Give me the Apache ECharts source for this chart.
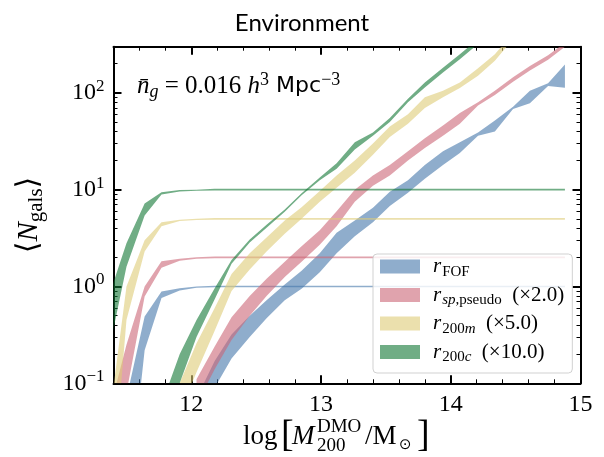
<!DOCTYPE html>
<html><head><meta charset="utf-8">
<script src="https://cdn.jsdelivr.net/npm/echarts@6/dist/echarts.min.js"></script>
<style>html,body{margin:0;padding:0;background:#fff}#c{width:604px;height:457px}</style>
</head><body><div id="c"></div>
<script>
// ---- data ----
const massBins = [11.365, 11.50, 11.64, 11.77, 11.91, 12.04, 12.18, 12.31, 12.45, 12.58, 12.72, 12.85, 12.99, 13.12, 13.26, 13.40, 13.53, 13.67, 13.80, 13.94, 14.07, 14.21, 14.34, 14.48, 14.61, 14.75, 14.88];

const blueCenLo = [0.001, 0.004, 0.22, 0.76, 0.91, 0.97, 0.98, 0.98, 0.98, 0.98, 0.98, 0.98, 0.98, 0.98, 0.98, 0.98, 0.98, 0.98, 0.98, 0.98, 0.98, 0.98, 0.98, 0.98, 0.98, 0.98, 0.98];
const blueCenHi = [0.01, 0.07, 0.49, 0.89, 0.96, 1.0, 1.02, 1.02, 1.02, 1.02, 1.02, 1.02, 1.02, 1.02, 1.02, 1.02, 1.02, 1.02, 1.02, 1.02, 1.02, 1.02, 1.02, 1.02, 1.02, 1.02, 1.02];
const blueSatLo = [null, null, null, null, null, 0.035, 0.09, 0.18, 0.3, 0.47, 0.72, 0.95, 1.4, 2.2, 3.3, 4.6, 6.8, 9.3, 13, 18, 24, 36, 40, 68, 78, 118, 113];
const blueSatHi = [null, null, null, null, null, 0.07, 0.17, 0.32, 0.5, 0.72, 1.05, 1.45, 2.2, 3.6, 4.8, 6.5, 9.5, 12.5, 18, 25, 31, 39, 52, 72, 105, 126, 196];

const pinkCenLo = [0.01, 0.08, 0.79, 1.56, 1.85, 1.93, 1.96, 1.96, 1.96, 1.96, 1.96, 1.96, 1.96, 1.96, 1.96, 1.96, 1.96, 1.96, 1.96, 1.96, 1.96, 1.96, 1.96, 1.96, 1.96, 1.96, 1.96];
const pinkCenHi = [0.05, 0.25, 1.0, 1.82, 1.94, 2.0, 2.04, 2.04, 2.04, 2.04, 2.04, 2.04, 2.04, 2.04, 2.04, 2.04, 2.04, 2.04, 2.04, 2.04, 2.04, 2.04, 2.04, 2.04, 2.04, 2.04, 2.04];
const pinkSatLo = [null, null, null, null, null, 0.06, 0.14, 0.28, 0.5, 0.8, 1.25, 1.8, 2.7, 4.2, 7.5, 11, 14, 20, 27, 36, 48, 74, 95, 130, 170, 220, 300];
const pinkSatHi = [null, null, null, null, null, 0.11, 0.24, 0.48, 0.8, 1.2, 1.8, 2.6, 3.8, 6.0, 10, 14, 18, 25, 34, 46, 62, 80, 105, 145, 190, 245, 330];

const yellowCenLo = [0.003, 0.45, 2.3, 4.2, 4.75, 4.85, 4.9, 4.9, 4.9, 4.9, 4.9, 4.9, 4.9, 4.9, 4.9, 4.9, 4.9, 4.9, 4.9, 4.9, 4.9, 4.9, 4.9, 4.9, 4.9, 4.9, 4.9];
const yellowCenHi = [0.04, 1.0, 3.0, 4.6, 4.9, 5.0, 5.1, 5.1, 5.1, 5.1, 5.1, 5.1, 5.1, 5.1, 5.1, 5.1, 5.1, 5.1, 5.1, 5.1, 5.1, 5.1, 5.1, 5.1, 5.1, 5.1, 5.1];
const yellowSatLo = [null, null, null, null, 0.05, 0.13, 0.35, 0.9, 1.5, 2.3, 3.5, 5.0, 7.5, 10.5, 15, 23, 35, 48, 70, 90, 112, 150, 215, 360, 500, 650, 850];
const yellowSatHi = [null, null, null, null, 0.1, 0.26, 0.6, 1.35, 2.2, 3.2, 4.8, 6.6, 9.7, 14, 20, 30, 45, 60, 90, 105, 128, 180, 250, 420, 560, 720, 950];

const greenCenLo = [0.22, 1.6, 5.4, 8.9, 9.6, 9.75, 9.8, 9.8, 9.8, 9.8, 9.8, 9.8, 9.8, 9.8, 9.8, 9.8, 9.8, 9.8, 9.8, 9.8, 9.8, 9.8, 9.8, 9.8, 9.8, 9.8, 9.8];
const greenCenHi = [0.8, 2.8, 7.2, 9.4, 9.9, 10.0, 10.2, 10.2, 10.2, 10.2, 10.2, 10.2, 10.2, 10.2, 10.2, 10.2, 10.2, 10.2, 10.2, 10.2, 10.2, 10.2, 10.2, 10.2, 10.2, 10.2, 10.2];
const greenSatLo = [null, null, null, 0.03, 0.1, 0.3, 0.74, 1.72, 2.85, 4.05, 5.9, 8.75, 12.5, 16.5, 26, 36, 50, 80, 114, 162, 222, 320, 430, 600, 800, 1000, 1300];
const greenSatHi = [null, null, null, 0.06, 0.2, 0.45, 0.96, 1.88, 3.05, 4.35, 6.25, 9.2, 13.4, 18.8, 31, 39, 55, 87, 128, 182, 250, 360, 480, 660, 880, 1100, 1400];

const seriesNames = ['r_FOF', 'r_sp', 'r_200m', 'r_200c'];
const legendLabels = ['{i0|r}{s|FOF}', '{i0|r}{si|sp}{s|,pseudo}{n|  (×2.0)}', '{i0|r}{s|200}{si|m}{n|  (×5.0)}', '{i0|r}{s|200}{si|c}{n|  (×10.0)}'];
const xMajorTicks = [12, 13, 14, 15];
const xMinorTicks = [11.6, 11.8, 12.2, 12.4, 12.6, 12.8, 13.2, 13.4, 13.6, 13.8, 14.2, 14.4, 14.6, 14.8];
const yMajorTicks = [0.1, 1, 10, 100];
const yMinorTicks = [0.2, 0.3, 0.4, 0.5, 0.6, 0.7, 0.8, 0.9, 2, 3, 4, 5, 6, 7, 8, 9, 20, 30, 40, 50, 60, 70, 80, 90, 200];
const titleText = 'Environment';

// ---- styling ----
const SERIF = "'Liberation Serif', 'DejaVu Serif', serif";
const colors = ['rgba(68,119,170,0.6)', 'rgba(204,102,119,0.6)', 'rgba(221,204,119,0.6)', 'rgba(17,119,51,0.6)'];
const bands = [
  [blueCenLo, blueCenHi, blueSatLo, blueSatHi],
  [pinkCenLo, pinkCenHi, pinkSatLo, pinkSatHi],
  [yellowCenLo, yellowCenHi, yellowSatLo, yellowSatHi],
  [greenCenLo, greenCenHi, greenSatLo, greenSatHi]
];
const series = [];
function addBand(name, color, lo, hi) {
  const rows = [];
  massBins.forEach((x, i) => { if (lo[i] != null && hi[i] != null) rows.push([x, lo[i], hi[i]]); });
  series.push({
    type: 'custom', name: name, data: rows, encode: {x: 0, y: [1, 2]},
    xAxisIndex: 0, yAxisIndex: 0, clip: true, silent: true, animation: false,
    itemStyle: {color: color},
    renderItem: function (params, api) {
      if (params.dataIndex !== 0) return null;
      const top = rows.map(r => api.coord([r[0], r[2]]));
      const bot = rows.map(r => api.coord([r[0], r[1]])).reverse();
      const cs = params.coordSys;
      return {
        type: 'polygon', shape: {points: top.concat(bot)}, style: {fill: color, stroke: null},
        clipPath: {type: 'rect', shape: {x: cs.x, y: cs.y, width: cs.width, height: cs.height}}
      };
    }
  });
}
bands.forEach((b, k) => {
  addBand(seriesNames[k], colors[k], b[0], b[1]);
  addBand(seriesNames[k], colors[k], b[2], b[3]);
});

const xMin = 11.4, xMax = 15, yMin = 0.1, yMax = 300;
const yLogMin = Math.log10(yMin), yLogMax = Math.log10(yMax);
const yMajorExp = yMajorTicks.map(v => Math.round(Math.log10(v)));
const yMinorExp = yMinorTicks.map(v => Math.log10(v));

function xAx(pos, ticks, len, w, withLine, withLabel) {
  return {type: 'value', min: xMin, max: xMax, position: pos, gridIndex: 0,
    axisLine: {show: withLine, onZero: false, lineStyle: {color: '#000', width: 2}},
    axisTick: {show: true, inside: true, length: len, lineStyle: {color: '#000', width: w}, customValues: ticks},
    axisLabel: withLabel ? {show: true, customValues: ticks, margin: 9, color: '#000', fontFamily: SERIF, fontSize: 24,
      formatter: v => String(Math.round(v))} : {show: false},
    splitLine: {show: false}};
}
function yAx(pos, ticks, len, w, withLine, withLabel) {
  return {type: 'value', min: yLogMin, max: yLogMax, position: pos, gridIndex: 0,
    axisLine: {show: withLine, onZero: false, lineStyle: {color: '#000', width: 2}},
    axisTick: {show: true, inside: true, length: len, lineStyle: {color: '#000', width: w}, customValues: ticks},
    axisLabel: withLabel ? {show: true, customValues: ticks, margin: 9, color: '#000',
      formatter: v => { const n = Math.round(v); return '{b|10}{s|' + (n < 0 ? '\u2212' + (-n) : n) + '}'; },
      rich: {b: {fontFamily: SERIF, fontSize: 24, lineHeight: 30, color: '#000'},
             s: {fontFamily: SERIF, fontSize: 17, lineHeight: 17, verticalAlign: 'top', color: '#000'}}} : {show: false},
    splitLine: {show: false}};
}

const option = {
  animation: false,
  backgroundColor: '#fff',
  title: {text: titleText, left: 'center', top: 6, textStyle: {fontFamily: 'Lato', fontSize: 24, fontWeight: 'normal', color: '#000'}},
  grid: {left: 113.5, right: 23.5, top: 46.7, bottom: 73.7, containLabel: false},
  xAxis: [
    xAx('bottom', xMajorTicks, 8, 2, true, true),
    xAx('bottom', xMinorTicks, 4, 1, false, false),
    xAx('top', xMajorTicks, 8, 2, true, false),
    xAx('top', xMinorTicks, 4, 1, false, false)
  ],
  yAxis: [
    {type: 'log', logBase: 10, min: yMin, max: yMax, show: false, gridIndex: 0},
    yAx('left', yMajorExp, 8, 2, true, true),
    yAx('left', yMinorExp, 4, 1, false, false),
    yAx('right', yMajorExp, 8, 2, true, false),
    yAx('right', yMinorExp, 4, 1, false, false)
  ],
  legend: {
    data: seriesNames.map(n => ({name: n, icon: 'rect'})),
    orient: 'vertical', left: 373, top: 254,
    itemWidth: 40, itemHeight: 14, itemGap: 5,
    padding: [2, 8, 8, 7],
    backgroundColor: 'rgba(255,255,255,0.8)', borderColor: 'rgba(204,204,204,0.9)', borderWidth: 1, borderRadius: 4,
    selectedMode: false,
    itemStyle: {borderWidth: 0},
    formatter: name => legendLabels[seriesNames.indexOf(name)],
    textStyle: {color: '#000', fontFamily: SERIF, fontSize: 21, rich: {
      i0: {fontFamily: SERIF, fontStyle: 'italic', fontSize: 21, lineHeight: 26, padding: [0, 1, 0, 8], color: '#000'},
      si: {fontFamily: SERIF, fontStyle: 'italic', fontSize: 15, lineHeight: 12, verticalAlign: 'bottom', color: '#000'},
      s: {fontFamily: SERIF, fontSize: 15, lineHeight: 12, verticalAlign: 'bottom', color: '#000'},
      n: {fontFamily: SERIF, fontSize: 21, lineHeight: 26, color: '#000'}
    }}
  },
  graphic: [
    {type: 'text', x: 137, y: 86, silent: true, style: {
      text: '{it|n\u0304}{sub|g}{rm| = 0.016 }{it|h}{sup|3}{sf| Mpc}{sup|\u22123}',
      align: 'left', verticalAlign: 'middle', fill: '#000',
      rich: {
        it: {fontFamily: SERIF, fontStyle: 'italic', fontSize: 25, lineHeight: 30, fill: '#000'},
        rm: {fontFamily: SERIF, fontSize: 25, lineHeight: 30, fill: '#000'},
        sf: {fontFamily: "'DejaVu Sans'", fontSize: 22, lineHeight: 30, fill: '#000'},
        sub: {fontFamily: SERIF, fontStyle: 'italic', fontSize: 18, lineHeight: 14, verticalAlign: 'bottom', fill: '#000'},
        sup: {fontFamily: SERIF, fontSize: 18, lineHeight: 17, verticalAlign: 'top', fill: '#000'}
      }}},
    {type: 'text', x: 29, y: 215, rotation: Math.PI / 2, silent: true, style: {
      text: '{a|\u27E8}{i|N}{s|gals}{a|\u27E9}', align: 'center', verticalAlign: 'middle', fill: '#000',
      rich: {
        a: {fontFamily: SERIF, fontSize: 30, lineHeight: 36, fill: '#000'},
        i: {fontFamily: SERIF, fontStyle: 'italic', fontSize: 29, lineHeight: 36, fill: '#000'},
        s: {fontFamily: SERIF, fontSize: 21, lineHeight: 16, verticalAlign: 'bottom', fill: '#000'}
      }}},
    {type: 'group', x: 243, y: 437, silent: true, children: [
      {type: 'text', x: 0, y: 0, style: {text: 'log', fontFamily: SERIF, fontSize: 27, verticalAlign: 'middle', fill: '#000'}},
      {type: 'text', x: 38, y: -1, style: {text: '[', fontFamily: SERIF, fontSize: 38, verticalAlign: 'middle', fill: '#000'}},
      {type: 'text', x: 49, y: 0, style: {text: 'M', fontFamily: SERIF, fontStyle: 'italic', fontSize: 27, verticalAlign: 'middle', fill: '#000'}},
      {type: 'text', x: 74, y: -10, style: {text: 'DMO', fontFamily: SERIF, fontSize: 19, verticalAlign: 'middle', fill: '#000'}},
      {type: 'text', x: 74, y: 9, style: {text: '200', fontFamily: SERIF, fontSize: 19, verticalAlign: 'middle', fill: '#000'}},
      {type: 'text', x: 122, y: 0, style: {text: '/M', fontFamily: SERIF, fontSize: 27, verticalAlign: 'middle', fill: '#000'}},
      {type: 'text', x: 156, y: 8, style: {text: '\u2299', fontFamily: "'DejaVu Sans'", fontSize: 15, verticalAlign: 'middle', fill: '#000'}},
      {type: 'text', x: 174, y: -1, style: {text: ']', fontFamily: SERIF, fontSize: 38, verticalAlign: 'middle', fill: '#000'}}
    ]}
  ],
  series: series
};
const chart = echarts.init(document.getElementById('c'), null, {renderer: 'canvas'});
chart.setOption(option);
</script>
</body></html>
